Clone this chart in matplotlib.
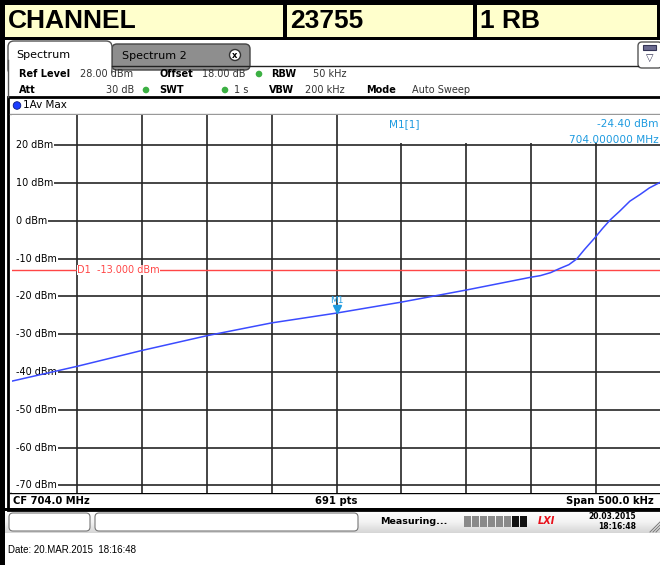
import matplotlib.pyplot as plt
import matplotlib.transforms as mtransforms
from matplotlib.patches import Rectangle, FancyBboxPatch, Circle
from matplotlib.colors import LinearSegmentedColormap
import numpy as np

W, H = 660, 565

# header cells
header_labels = ["CHANNEL", "23755", "1 RB"]

# analyzer settings
center_mhz = 704.0
span_khz = 500.0
ref_level = 28.0
display_line = -13.0
y_ticks = [20, 10, 0, -10, -20, -30, -40, -50, -60, -70]

# trace: offset from centre frequency (kHz) and level (dBm)
offset_khz = [-250, -200, -150, -100, -50, 0, 50, 100, 150, 157, 165, 172,
              179, 185, 191, 199, 205, 211, 218, 226, 234, 241, 250]
level_dbm = [-42.4, -38.5, -34.3, -30.4, -27.0, -24.4, -21.5, -18.3, -14.9,
             -14.5, -13.7, -12.6, -11.6, -10.1, -7.6, -4.5, -2.0, 0.3, 2.5,
             5.2, 7.0, 8.7, 10.3]

# marker M1
marker_mhz = 704.0
marker_dbm = -24.40

TRACE = "#3b4bff"
MARK = "#1e9be0"
RED = "#ff4646"
GRID = "#262626"

fig = plt.figure(figsize=(W / 100, H / 100), dpi=100, facecolor="white")

# background axes in screen pixels
bg = fig.add_axes([0, 0, 1, 1])
bg.set_xlim(0, W)
bg.set_ylim(H, 0)
bg.axis("off")


def rect(x0, y0, x1, y1, **kw):
    bg.add_patch(Rectangle((x0, y0), x1 - x0, y1 - y0, **kw))


def rbox(x0, y0, x1, y1, r=4, **kw):
    bg.add_patch(FancyBboxPatch((x0, y0), x1 - x0, y1 - y0,
                                boxstyle="round,pad=0,rounding_size=%g" % r, **kw))


# black outer strips and header
rect(0, 0, W, 40, color="black", lw=0)
rect(0, 0, 5, H, color="black", lw=0)
for (x0, x1), lab in zip([(5, 283), (287, 473), (477, 657)], header_labels):
    rect(x0, 5, x1, 37, color="#ffffcc", lw=0)
    bg.text(x0 + 3, 21, lab, fontsize=19, fontweight="bold", family="Liberation Sans",
            va="center", ha="left", color="black")

# tabs
rect(5, 40, W, 97, color="white", lw=0)
bg.plot([112, 638], [66, 66], color="#222222", lw=1)
rbox(112, 44, 250, 70, r=5, facecolor="#8e8e8e", edgecolor="#444444", lw=1)
bg.text(122, 56, "Spectrum 2", fontsize=8, va="center", ha="left")
bg.add_patch(Circle((235, 55), 5.5, facecolor="white", edgecolor="#333333", lw=1))
bg.text(235, 55.5, "x", fontsize=6, fontweight="bold", va="center", ha="center")
rbox(8, 41, 112, 75, r=6, facecolor="white", edgecolor="#555555", lw=1)
rect(9, 66, 111, 78, color="white", lw=0)
bg.plot([8, 8], [60, 97], color="#555555", lw=1)
bg.text(16, 55, "Spectrum", fontsize=8, va="center", ha="left")
rbox(638, 42, 662, 68, r=4, facecolor="white", edgecolor="#555555", lw=1)
rect(643, 45, 656, 50, facecolor="#6a6a90", edgecolor="#333355", lw=0.8)
bg.text(650, 58, "\u25bd", fontsize=7, va="center", ha="center", color="#333355")

# settings lines
info = [
    (19, 74, "Ref Level", True), (80, 74, "28.00 dBm", False),
    (160, 74, "Offset", True), (202, 74, "18.00 dB", False),
    (271, 74, "RBW", True), (313, 74, "50 kHz", False),
    (19, 90, "Att", True), (106, 90, "30 dB", False),
    (159, 90, "SWT", True), (234, 90, "1 s", False),
    (269, 90, "VBW", True), (305, 90, "200 kHz", False),
    (366, 90, "Mode", True), (412, 90, "Auto Sweep", False),
]
for x, y, s, b in info:
    bg.text(x, y, s, fontsize=7, fontweight="bold" if b else "normal",
            color="black" if b else "#333333", va="center", ha="left")
for x, y in [(259, 74), (146, 90), (225, 90)]:
    bg.add_patch(Circle((x, y), 3.3, color="#3cb043", lw=0))

# display frame
rect(8, 97, 663, 510, facecolor="white", edgecolor="black", lw=2)
bg.plot([10, W], [113.5, 113.5], color="#999999", lw=1)
bg.add_patch(Circle((17, 105.5), 3.8, facecolor="#1a3cff", edgecolor="#0a1a80", lw=0.6))
bg.text(23, 105.5, "1Av Max", fontsize=7.5, va="center", ha="left")
bg.plot([10, W], [492.5, 492.5], color="black", lw=1)
bg.text(13, 500.5, "CF %.1f MHz" % center_mhz, fontsize=7.2, fontweight="bold",
        va="center", ha="left")
bg.text(336, 500.5, "691 pts", fontsize=7.2, fontweight="bold", va="center", ha="center")
bg.text(654, 500.5, "Span %.1f kHz" % span_khz, fontsize=7.2, fontweight="bold",
        va="center", ha="right")

# status bar
bar_cmap = LinearSegmentedColormap.from_list("bar", ["#ffffff", "#f4f4f4", "#d6d6d6"])
grad = np.linspace(0, 1, 50).reshape(-1, 1)
bg.imshow(grad, extent=(5, W, 533, 510), origin="upper", cmap=bar_cmap,
          aspect="auto", zorder=0.5)
rect(5, 508, W, 511, color="black", lw=0)
rbox(9, 513, 90, 531, r=4, facecolor="white", edgecolor="#777777", lw=0.8, zorder=1)
rbox(95, 513, 358, 531, r=4, facecolor="white", edgecolor="#777777", lw=0.8, zorder=1)
bg.text(380, 521, "Measuring...", fontsize=6.8, fontweight="bold", va="center", ha="left")
for i in range(8):
    c = "#111111" if i >= 6 else "#8a8a8a"
    rect(464 + i * 8, 516, 470.5 + i * 8, 527, color=c, lw=0, zorder=1)
bg.text(546, 521.5, "LXI", fontsize=7, fontweight="bold", style="italic",
        color="#e8101a", va="center", ha="center")
bg.text(636, 516.5, "20.03.2015", fontsize=5.5, fontweight="bold", va="center", ha="right")
bg.text(636, 526.5, "18:16:48", fontsize=5.5, fontweight="bold", va="center", ha="right")
for k in range(3):
    bg.plot([650 + k * 3, 660], [532, 522 + k * 3], color="#777777", lw=0.7)

bg.text(8, 550, "Date: 20.MAR.2015  18:16:48", fontsize=7, family="Liberation Sans",
        va="center", ha="left")

# spectrum plot
ax = fig.add_axes([12 / W, 1 - 493 / H, 649 / W, 378 / H])
ax.set_facecolor("white")
f0 = center_mhz - span_khz / 2000
f1 = center_mhz + span_khz / 2000
ax.set_xlim(f0, f1)
ax.set_ylim(ref_level - 100, ref_level)
ax.set_xticks([f0 + i * span_khz / 10000 for i in range(1, 10)])
ax.set_yticks(y_ticks)
ax.grid(True, color=GRID, lw=1.2)
ax.tick_params(length=0, labelbottom=False, labelleft=False)
for s in ax.spines.values():
    s.set_visible(False)

# white strip left of the level labels
ax.add_patch(Rectangle((0, 0), 5 / 649, 1, transform=ax.transAxes,
                       facecolor="white", edgecolor="none", zorder=3.5))
lab_tr = mtransforms.blended_transform_factory(ax.transAxes, ax.transData)
for v in y_ticks:
    ax.text(4 / 649, v, "%d dBm" % v, transform=lab_tr, fontsize=6.9, va="center",
            ha="left", zorder=5,
            bbox=dict(facecolor="white", edgecolor="none", pad=0.6))

# display line D1
ax.axhline(display_line, color=RED, lw=1, zorder=3.8)
ax.text(f0 + span_khz / 10000, display_line, "D1  %.3f dBm" % display_line,
        fontsize=7, color=RED, va="center", ha="left", zorder=5,
        bbox=dict(facecolor="white", edgecolor="none", pad=0.3))

freqs = [center_mhz + k / 1000 for k in offset_khz]
ax.plot(freqs, level_dbm, color=TRACE, lw=1.1, zorder=6)

# marker
mk_tr = mtransforms.offset_copy(ax.transData, fig=fig, x=0, y=4, units="dots")
ax.plot([marker_mhz], [marker_dbm], marker="v", ms=6, color=MARK, transform=mk_tr,
        zorder=7, ls="none")
mk_tr2 = mtransforms.offset_copy(ax.transData, fig=fig, x=0, y=13, units="dots")
ax.text(marker_mhz, marker_dbm, "M1", transform=mk_tr2, fontsize=6.5, color=MARK,
        ha="center", va="center", zorder=7)

# marker readout (covers the grid above the 20 dBm line)
ax.add_patch(Rectangle((0.508, 0.926), 0.5, 0.08, transform=ax.transAxes,
                       facecolor="white", edgecolor="none", zorder=4.5))
ax.text(0.581, 0.975, "M1[1]", transform=ax.transAxes, fontsize=7.6, color=MARK,
        ha="left", va="center", zorder=5)
ax.text(0.996, 0.975, "%.2f dBm" % marker_dbm, transform=ax.transAxes, fontsize=7.6,
        color=MARK, ha="right", va="center", zorder=5)
ax.text(0.996, 0.933, "%.6f MHz" % marker_mhz, transform=ax.transAxes, fontsize=7.6,
        color=MARK, ha="right", va="center", zorder=5)

fig.savefig("out.png", dpi=100)
